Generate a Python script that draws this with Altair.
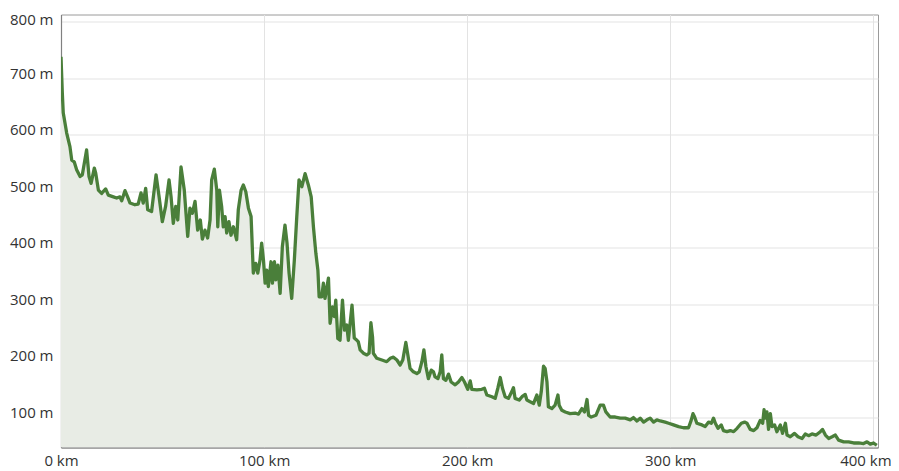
import altair as alt
import pandas as pd

# distance along route (km)
km = [
    0, 0.65, 1.1, 2.8, 4.4, 5.3, 6.5, 7.7, 9.4, 10.5, 12.6, 13.8, 14.8, 16.4, 17.1, 18.4,
    20.0, 22.0, 23.3, 25.8, 27.4, 29.0, 29.9, 31.5, 32.8, 34.0, 36.4, 38.0, 39.4, 40.5,
    41.7, 42.7, 44.6, 46.8, 48.3, 49.9, 51.5, 53.2, 54.2, 55.3, 56.5, 57.5, 59.1, 60.7,
    62.4, 63.5, 64.7, 66.0, 67.3, 68.6, 69.6,
    70.9, 72.2, 73.4, 74.2, 75.5, 76.7, 77.2, 78.0, 79.1, 79.9, 80.8, 81.6, 82.7, 83.7,
    84.9, 86.5, 87.3, 88.7, 89.8, 91.0, 92.3, 93.6, 94.7, 95.9, 96.9, 98.0, 98.8, 99.7,
    100.5, 101.3, 102.1, 103.4, 104.1, 105.1, 105.8, 106.8, 107.9, 109.0, 110.3, 111.3,
    112.3, 113.6, 114.9, 116.1, 117.2, 118.6, 120.2, 121.8, 123.2, 124.3, 125.5, 126.5,
    127.1, 128.4, 129.2, 130.0, 131.7, 132.5, 133.7, 134.6, 135.3, 136.3, 137.4, 138.6,
    139.6, 140.7, 141.5, 143.3, 144.4, 145.7, 146.4, 147.3, 148.9, 150.6, 151.7, 152.6,
    153.4, 153.8, 155.5, 158.0, 160.4, 162.1, 163.7, 165.4, 167.0, 168.3, 169.8, 170.8,
    171.9, 173.5, 175.2, 176.4, 177.7, 178.7, 179.7, 180.9, 182.3, 183.4, 184.2, 185.6,
    186.7, 187.5, 188.3, 189.5, 190.8, 192.1, 194.1, 195.7, 197.4, 198.7, 200.3, 201.5,
    202.3, 204.8, 207.2, 208.5, 209.7, 212.2, 213.8, 215.1, 216.3, 217.4, 218.7, 220.3,
    222.0, 222.8, 223.6, 225.6, 227.0, 228.6, 229.4, 231.0, 232.7, 234.3, 235.5, 236.5,
    237.6, 238.4, 239.3, 240.0, 241.7, 243.3, 244.7, 245.3, 246.6, 248.3, 250.7, 253.2,
    254.8, 256.5, 257.8, 259.0, 259.8, 261.1, 263.4, 265.5, 267.1, 268.3, 270.4, 272.9,
    275.4, 277.8, 280.3, 281.9, 283.6, 285.2, 286.9, 288.5, 290.1, 291.8, 293.4, 295.1,
    297.5, 299.2, 301.6, 304.1, 306.5, 309.0, 310.3, 311.2, 312.0, 313.1, 315.6, 317.2,
    318.9, 320.2, 321.3, 322.2, 323.5, 325.1, 326.2, 327.9, 329.6, 331.2, 332.9, 335.0,
    336.6, 337.8, 339.4, 341.1, 342.7, 344.3, 345.5, 346.2, 346.8, 347.6, 348.4, 349.3,
    350.1, 351.4, 352.5, 354.2, 355.3, 356.7, 357.5, 359.1, 361.2, 362.9, 364.9, 366.5,
    368.1, 369.8, 371.8, 373.9, 375.0, 376.4, 378.0, 379.7, 381.3, 382.9, 385.4, 387.8,
    390.3, 392.8, 395.2, 396.9, 398.5, 400.1, 401.7,
]

# elevation (m)
elevation = [
    738, 674, 639, 603, 579, 555, 552, 538, 526, 529, 573, 526, 514, 541, 532, 502,
    496, 504, 493, 490, 488, 490, 483, 501, 490, 479, 476, 477, 497, 479,
    505, 467, 464, 529, 490, 446, 473, 520, 490, 443, 473, 449, 543, 502,
    420, 470, 461, 482, 431, 449, 415,
    431, 417, 449, 520, 539, 502, 437, 502, 473, 437, 455, 426, 446, 422,
    437, 414, 467, 502, 511, 499, 470, 455, 355, 372, 355, 378, 408, 378,
    337, 360, 331, 375, 337, 375, 343, 369, 319, 402, 440, 408,
    355, 310, 378, 455, 520, 508, 531, 511, 490, 437, 390, 360,
    313, 313, 337, 310, 346, 266, 295, 278, 307, 239, 236, 307,
    254, 263, 236, 298, 240, 236, 233, 219, 213, 210, 213, 267,
    242, 213, 204, 201, 198, 204, 206, 201, 192, 201, 232, 210,
    186, 180, 177, 180, 198, 219, 189, 168, 183, 180, 171, 168,
    180, 210, 168, 165, 176, 162, 157, 162, 170, 162, 149, 164,
    149, 148, 149, 151, 139, 136, 133, 151, 170, 151, 136, 133,
    145, 152, 133, 130, 136, 140, 130, 127, 124, 139, 121, 145,
    190, 186, 162, 118, 115, 121, 139, 121, 112, 109, 106, 107,
    105, 115, 109, 131, 103, 100, 103, 121, 121, 109, 100, 100,
    98, 98, 95, 99, 93, 98, 91, 95, 98, 91, 95, 93,
    91, 89, 86, 83, 81, 81, 94, 106, 100, 89, 86, 83,
    91, 89, 98, 89, 80, 86, 76, 74, 76, 74, 80, 89,
    91, 89, 78, 76, 81, 94, 89, 113, 98, 109, 78, 106,
    83, 86, 74, 86, 71, 89, 68, 65, 71, 65, 62, 70,
    67, 70, 68, 74, 78, 68, 62, 65, 68, 59, 56, 56,
    54, 54, 53, 56, 52, 54, 50,
]

x_ticks = [0, 100, 200, 300, 400]
y_ticks = [100, 200, 300, 400, 500, 600, 700, 800]
X_MAX = 402.3
Y_MIN, Y_MAX = 46, 813

df = pd.DataFrame({"km": km, "m": elevation})

x_enc = alt.X(
    "km:Q",
    scale=alt.Scale(domain=[0, X_MAX], nice=False, zero=False),
    axis=alt.Axis(values=x_ticks, labelExpr="datum.value + ' km'", title=None,
                  ticks=False, tickSize=0, labelPadding=6, labelFlush=False,
                  labelOverlap=False,
                  labelOffset={"condition": {"test": "datum.value == 400", "value": -8},
                               "value": 0}),
)
y_enc = alt.Y(
    "m:Q",
    scale=alt.Scale(domain=[Y_MIN, Y_MAX], nice=False, zero=False),
    axis=alt.Axis(values=y_ticks, labelExpr="datum.value + ' m'", title=None,
                  ticks=False, tickSize=0, labelPadding=8, labelBaseline="alphabetic",
                  labelFlush=False, labelOverlap=False,
                  labelOffset={"condition": {"test": "datum.value == 800", "value": 2.5},
                               "value": 0}),
)

area = alt.Chart(df).mark_area(color="#e8ece5", clip=True).encode(
    x=x_enc, y=y_enc, y2=alt.datum(Y_MIN)
)
line = alt.Chart(df).mark_line(
    color="#4a7f3a", strokeWidth=3.3, strokeJoin="round", clip=True
).encode(x=x_enc, y=y_enc)

chart = (
    alt.layer(area, line)
    .properties(
        width=817,
        height=433,
        autosize=alt.AutoSizeParams(type="none"),
        padding={"left": 53, "top": 6.5, "right": 13, "bottom": 24},
    )
    .configure_view(stroke="#9a9a9a", strokeWidth=1)
    .configure_axis(
        labelFont="Open Sans",
        labelFontSize=15,
        labelColor="#333333",
        domainColor="#808080",
        domainWidth=1.2,
        gridColor="#e3e3e3",
        gridWidth=1,
    )
)

chart.save("out.html", embed_options={"renderer": "svg", "actions": False})
